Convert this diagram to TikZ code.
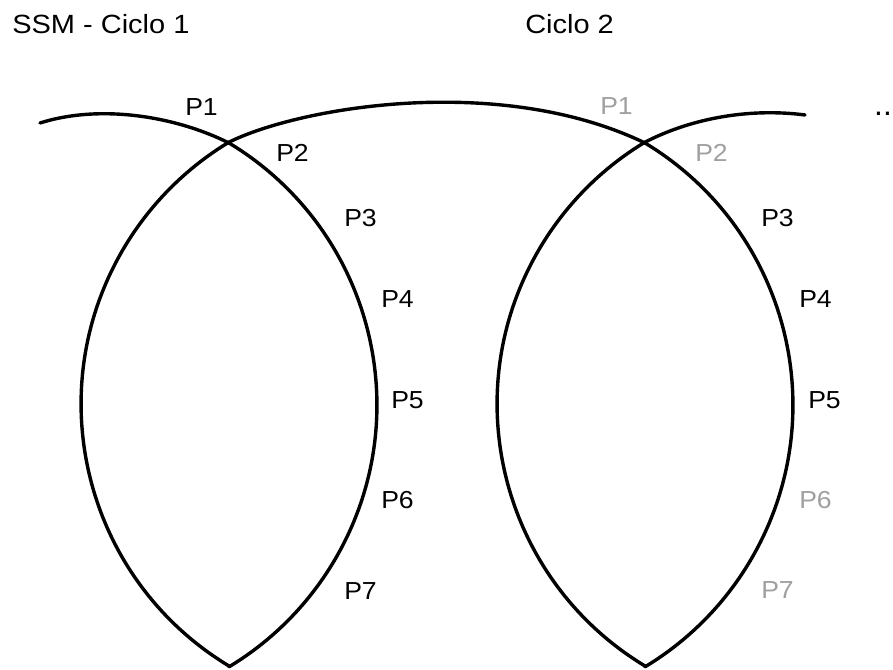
\documentclass[tikz,border=0pt]{standalone}
\usepackage{fontspec}
\setmainfont{Liberation Sans}
\begin{document}
\begin{tikzpicture}[x=0.03cm,y=0.03cm,
  cycle/.style={line width=2.9pt,line cap=round,line join=round},
  lbl/.style={font=\fontsize{21}{25}\selectfont,anchor=base west,inner sep=0pt,xscale=1.08},
  title/.style={font=\fontsize{22.5}{27}\selectfont,anchor=base west,inner sep=0pt,xscale=1.1},
  faded/.style={text={rgb,255:red,160;green,160;blue,160}}]
\useasboundingbox (0,0) rectangle (893,669);
\fill[white] (0,0) rectangle (893,669);

% meeting points of the arcs
\coordinate (T1) at (229,526);
\coordinate (B1) at (229,3);
\coordinate (T2) at (645,526);
\coordinate (B2) at (645,3);
\coordinate (E1) at (40,546);
\coordinate (E2) at (805,554);

% right side of cycle 1, coming in from the left
\draw[cycle] (E1) .. controls (100,565) and (175,553) .. (T1)
  arc[start angle=58.9,end angle=-58.9,radius=305.9];
% left side of cycle 1, bridge, right side of cycle 2
\draw[cycle] (B1) arc[start angle=238.9,end angle=121.1,radius=305.9]
  .. controls (300,562) and (500,596) .. (T2)
  arc[start angle=58.9,end angle=-58.9,radius=305.9];
% left side of cycle 2, going on to the right
\draw[cycle] (B2) arc[start angle=238.9,end angle=121.1,radius=305.9]
  .. controls (700,555) and (760,560) .. (E2);

% headings
\node[title] (h1) at (12,635) {SSM - Ciclo 1};
\node[title] (h2) at (525,635) {Ciclo 2};

% phases of cycle 1
\node[lbl] (a1) at (185,553) {P1};
\node[lbl] (a2) at (276,507) {P2};
\node[lbl] (a3) at (344,442) {P3};
\node[lbl] (a4) at (381,361) {P4};
\node[lbl] (a5) at (391,260) {P5};
\node[lbl] (a6) at (381,160) {P6};
\node[lbl] (a7) at (344,69) {P7};

% phases of cycle 2
\node[lbl,faded] (b1) at (600,554) {P1};
\node[lbl,faded] (b2) at (695,507) {P2};
\node[lbl] (b3) at (761,442) {P3};
\node[lbl] (b4) at (799,361) {P4};
\node[lbl] (b5) at (808,260) {P5};
\node[lbl,faded] (b6) at (799,160) {P6};
\node[lbl,faded] (b7) at (761,70) {P7};

\node[anchor=base west,inner sep=0pt,font=\fontsize{27}{30}\selectfont] (more) at (874,553) {..};
\end{tikzpicture}
\end{document}
